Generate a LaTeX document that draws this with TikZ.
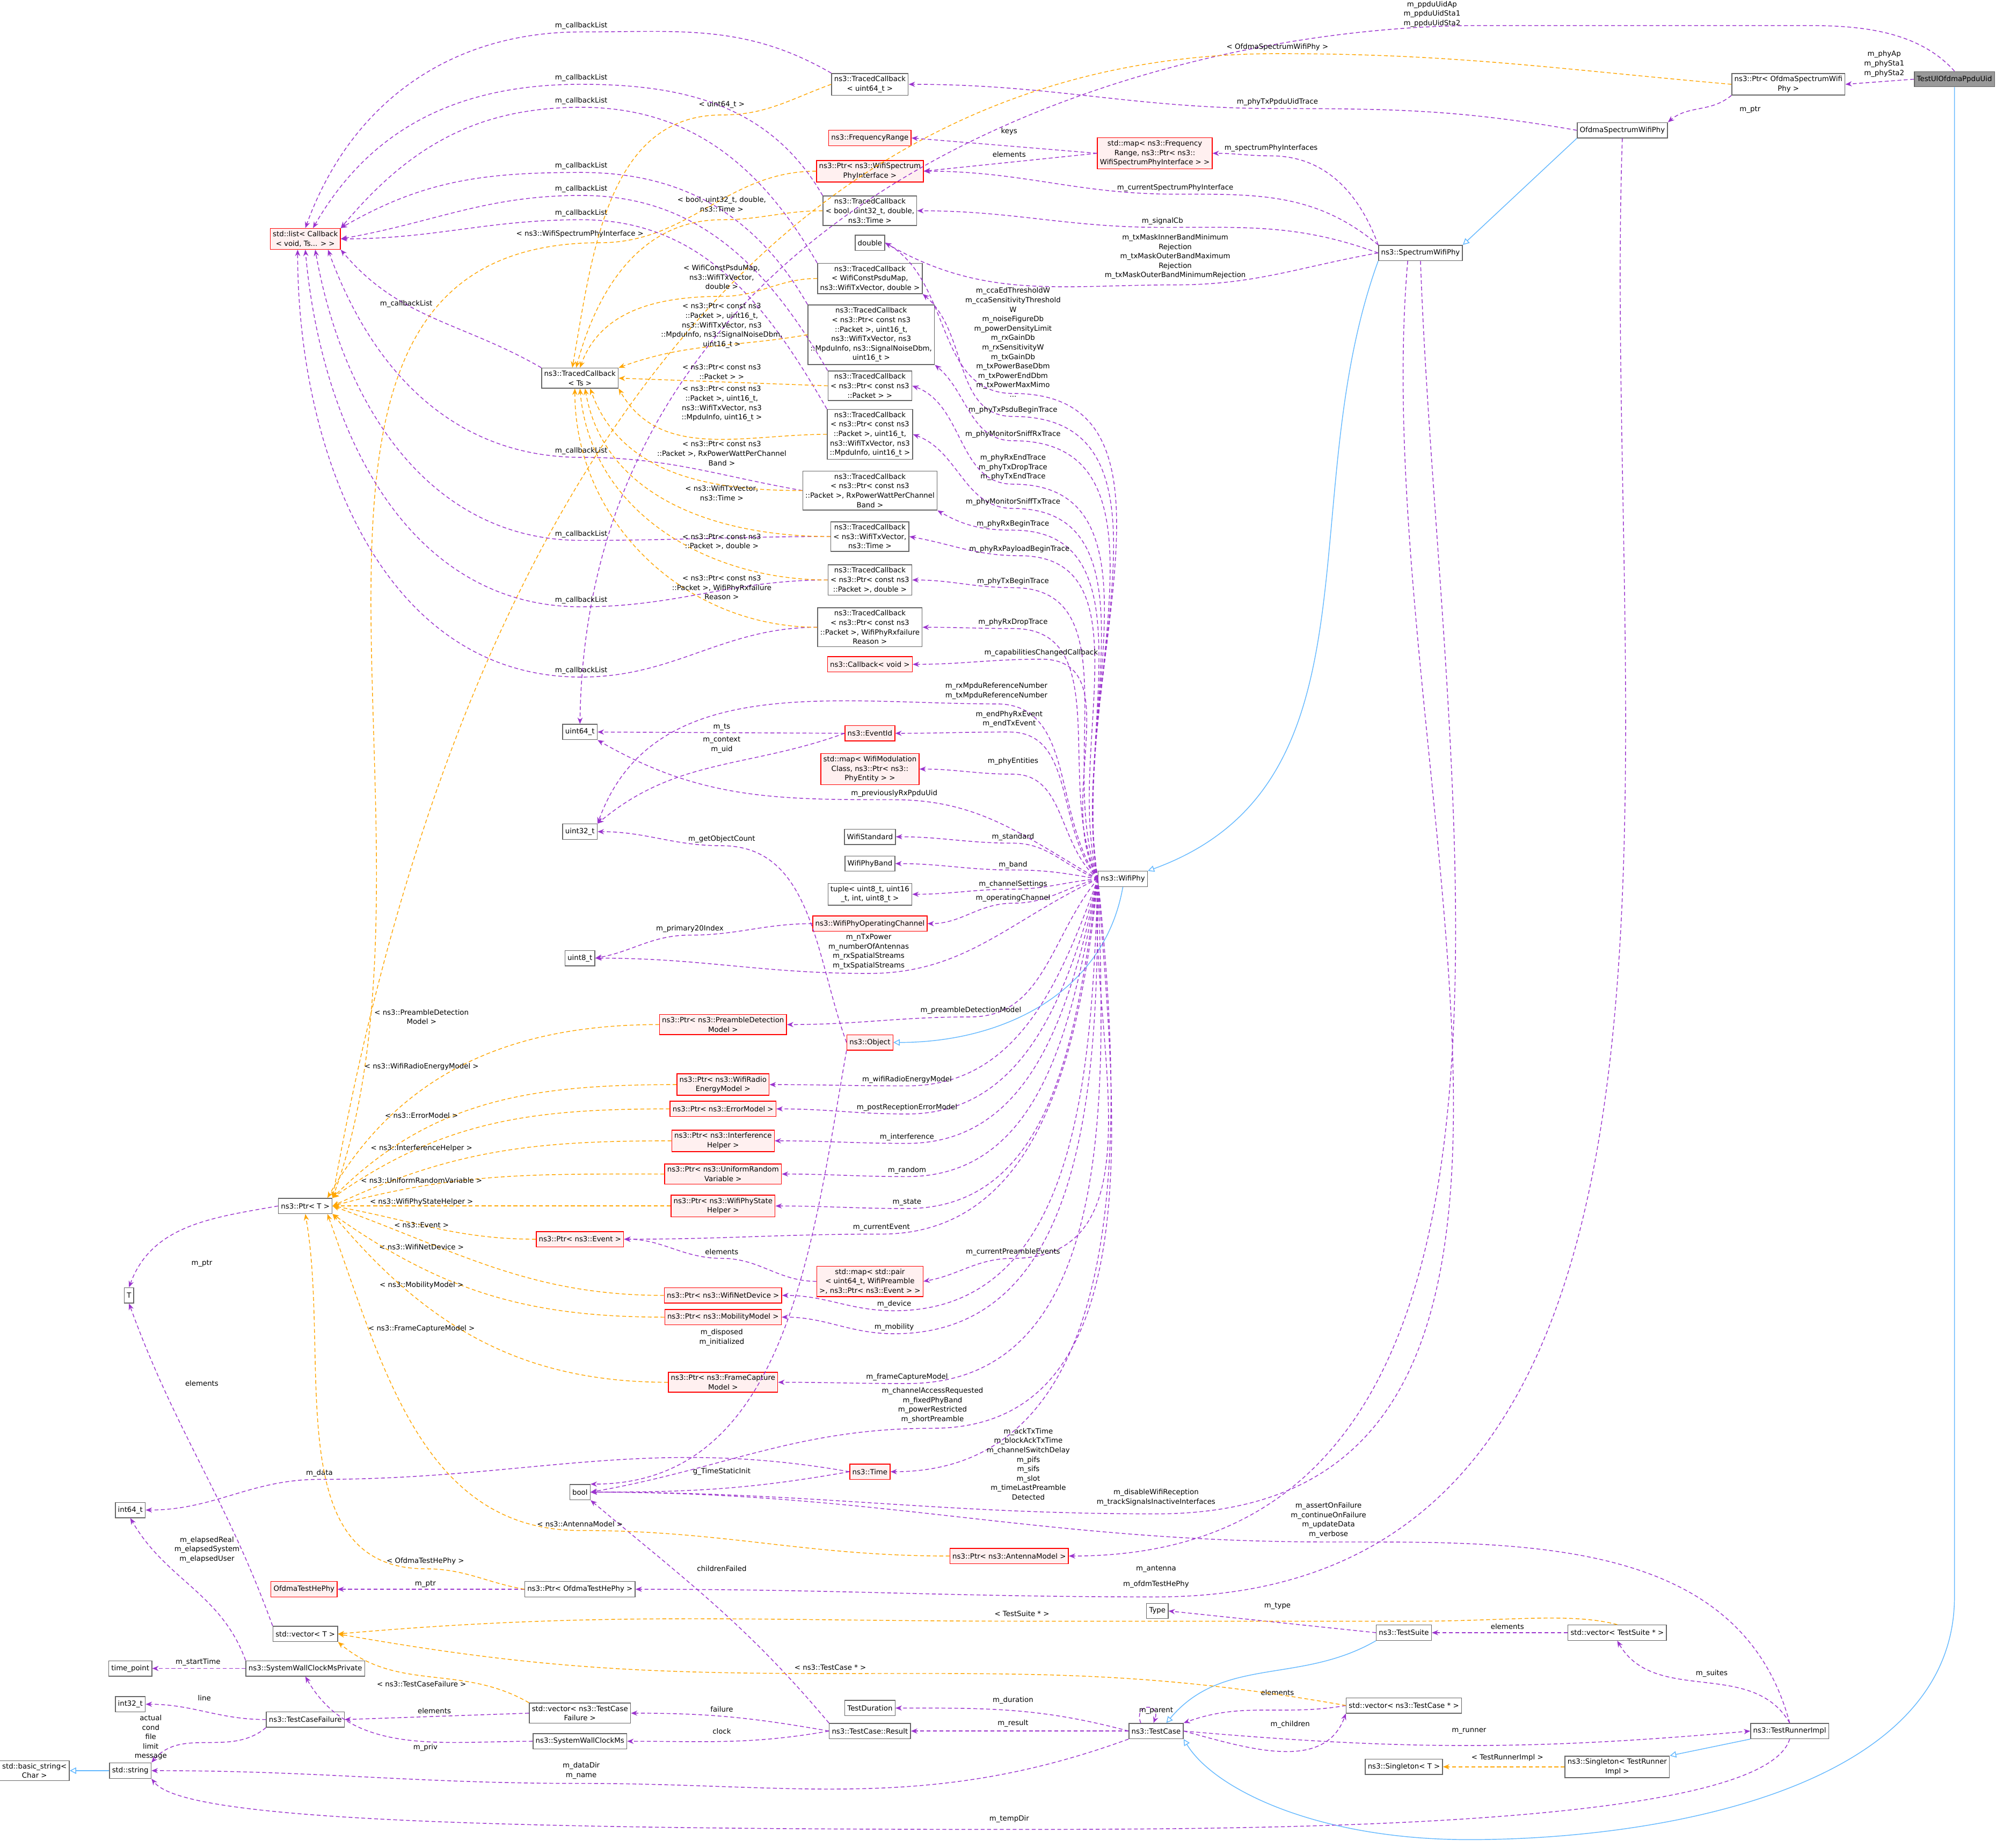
\documentclass[tikz,border=0pt]{standalone}
\usepackage{fontspec}
\setmainfont{DejaVu Sans}
\usetikzlibrary{arrows.meta}
\definecolor{pur}{HTML}{9A32CD}
\definecolor{org}{HTML}{FFA500}
\definecolor{blu}{HTML}{63B8FF}
\definecolor{bd}{HTML}{666666}
\newcount\labn
\newcommand\lab[3]{\global\advance\labn by 1 \node[lab] (lab\the\labn) at (#1,#2) {#3};}
\tikzset{
 bx/.style={draw=bd,fill=white,line width=0.18pt,inner xsep=0.6pt,inner ysep=0.6pt,align=center,font=\fontsize{1.68}{2.22}\selectfont,minimum height=3.6pt},
 rbx/.style={bx,draw=red,fill=red!6},
 gbx/.style={bx,fill=black!40},
 lab/.style={align=center,font=\fontsize{1.68}{2.22}\selectfont,inner sep=0pt},
 pe/.style={draw=pur,dash pattern=on 0.9pt off 0.6pt,line width=0.18pt,-{Stealth[length=1.5pt,width=1.2pt]}},
 oe/.style={draw=org,dash pattern=on 0.9pt off 0.6pt,line width=0.18pt,-{Stealth[length=1.5pt,width=1.2pt]}},
 be/.style={draw=blu,line width=0.18pt,-{Triangle[open,length=1.5pt,width=1.5pt,fill=white]}},
}
\begin{document}
\begin{tikzpicture}[x=0.3pt,y=-0.3pt]
\useasboundingbox (0,0) rectangle (1568,1446.5);
% ---------- nodes ----------
\node[gbx] (tu) at (1530,62) {TestUlOfdmaPpduUid};
\node[bx] (pofd) at (1400,66) {ns3::Ptr< OfdmaSpectrumWifi\\Phy >};
\node[bx] (ofdm) at (1270,102) {OfdmaSpectrumWifiPhy};
\node[bx] (swp) at (1112,198) {ns3::SpectrumWifiPhy};
\node[bx] (wp) at (879,688) {ns3::WifiPhy};
\node[rbx] (mapf) at (904,120) {std::map< ns3::Frequency\\Range, ns3::Ptr< ns3::\\WifiSpectrumPhyInterface > >};
\node[rbx] (freq) at (681,108) {ns3::FrequencyRange};
\node[rbx] (pwsi) at (681,134) {ns3::Ptr< ns3::WifiSpectrum\\PhyInterface >};
\node[bx] (tc64) at (681,66) {ns3::TracedCallback\\< uint64\_t >};
\node[bx] (tcbool) at (681,165) {ns3::TracedCallback\\< bool, uint32\_t, double,\\ns3::Time >};
\node[bx] (dbl) at (681,190) {double};
\node[bx] (tcpsdu) at (681,218) {ns3::TracedCallback\\< WifiConstPsduMap,\\ns3::WifiTxVector, double >};
\node[bx] (tcsniffrx) at (682,262) {ns3::TracedCallback\\< ns3::Ptr< const ns3\\::Packet >, uint16\_t,\\ns3::WifiTxVector, ns3\\::MpduInfo, ns3::SignalNoiseDbm,\\uint16\_t >};
\node[bx] (tcpkt) at (681,302) {ns3::TracedCallback\\< ns3::Ptr< const ns3\\::Packet > >};
\node[bx] (tcsnifftx) at (681,340) {ns3::TracedCallback\\< ns3::Ptr< const ns3\\::Packet >, uint16\_t,\\ns3::WifiTxVector, ns3\\::MpduInfo, uint16\_t >};
\node[bx] (tcrxpow) at (681,384) {ns3::TracedCallback\\< ns3::Ptr< const ns3\\::Packet >, RxPowerWattPerChannel\\Band >};
\node[bx] (tctxv) at (681,420) {ns3::TracedCallback\\< ns3::WifiTxVector,\\ns3::Time >};
\node[bx] (tcpktd) at (681,454) {ns3::TracedCallback\\< ns3::Ptr< const ns3\\::Packet >, double >};
\node[bx] (tcfail) at (681,491) {ns3::TracedCallback\\< ns3::Ptr< const ns3\\::Packet >, WifiPhyRxfailure\\Reason >};
\node[rbx] (cbv) at (681,520) {ns3::Callback< void >};
\node[rbx] (evid) at (681,574) {ns3::EventId};
\node[rbx] (mapmod) at (681,602) {std::map< WifiModulation\\Class, ns3::Ptr< ns3::\\PhyEntity > >};
\node[bx] (wstd) at (681,655) {WifiStandard};
\node[bx] (wband) at (681,676) {WifiPhyBand};
\node[bx] (tup) at (681,700) {tuple< uint8\_t, uint16\\\_t, int, uint8\_t >};
\node[rbx] (woc) at (681,723) {ns3::WifiPhyOperatingChannel};
\node[rbx] (ppre) at (566,802) {ns3::Ptr< ns3::PreambleDetection\\Model >};
\node[rbx] (obj) at (681,816) {ns3::Object};
\node[rbx] (pen) at (566,849) {ns3::Ptr< ns3::WifiRadio\\EnergyModel >};
\node[rbx] (perr) at (566,868) {ns3::Ptr< ns3::ErrorModel >};
\node[rbx] (pint) at (566,893) {ns3::Ptr< ns3::Interference\\Helper >};
\node[rbx] (prnd) at (566,919) {ns3::Ptr< ns3::UniformRandom\\Variable >};
\node[rbx] (pst) at (566,944) {ns3::Ptr< ns3::WifiPhyState\\Helper >};
\node[rbx] (pev) at (454,970) {ns3::Ptr< ns3::Event >};
\node[rbx] (mappair) at (681,1003) {std::map< std::pair\\< uint64\_t, WifiPreamble\\>, ns3::Ptr< ns3::Event > >};
\node[rbx] (pdev) at (566,1014) {ns3::Ptr< ns3::WifiNetDevice >};
\node[rbx] (pmob) at (566,1031) {ns3::Ptr< ns3::MobilityModel >};
\node[rbx] (pfc) at (566,1082) {ns3::Ptr< ns3::FrameCapture\\Model >};
\node[rbx] (time) at (681,1152) {ns3::Time};
\node[rbx] (pant) at (790,1218) {ns3::Ptr< ns3::AntennaModel >};
\node[bx] (pohe) at (454,1244) {ns3::Ptr< OfdmaTestHePhy >};
\node[rbx] (ohe) at (238,1244) {OfdmaTestHePhy};
\node[rbx] (list) at (239,187) {std::list< Callback\\< void, Ts... > >};
\node[bx] (tcts) at (454,296) {ns3::TracedCallback\\< Ts >};
\node[bx] (u64) at (454,573) {uint64\_t};
\node[bx] (u32) at (454,651) {uint32\_t};
\node[bx] (u8) at (454,750) {uint8\_t};
\node[bx] (ptrt) at (239,944) {ns3::Ptr< T >};
\node[bx] (T) at (101,1014) {T};
\node[bx] (i64) at (102,1182) {int64\_t};
\node[bx] (bool) at (454,1168) {bool};
\node[bx] (vect) at (239,1279) {std::vector< T >};
\node[bx] (tpt) at (102,1306) {time\_point};
\node[bx] (swcp) at (239,1306) {ns3::SystemWallClockMsPrivate};
\node[bx] (i32) at (102,1334) {int32\_t};
\node[bx] (tcf) at (239,1346) {ns3::TestCaseFailure};
\node[bx] (vtcf) at (454,1341) {std::vector< ns3::TestCase\\Failure >};
\node[bx] (swc) at (454,1363) {ns3::SystemWallClockMs};
\node[bx] (str) at (102,1386) {std::string};
\node[bx] (bstr) at (27,1386) {std::basic\_string<\\Char >};
\node[bx] (res) at (681,1355) {ns3::TestCase::Result};
\node[bx] (tdur) at (681,1337) {TestDuration};
\node[bx] (tcase) at (905,1355) {ns3::TestCase};
\node[bx] (type) at (906,1261) {Type};
\node[bx] (tsuite) at (1099,1278) {ns3::TestSuite};
\node[bx] (vts) at (1266,1278) {std::vector< TestSuite * >};
\node[bx] (vtc) at (1099,1335) {std::vector< ns3::TestCase * >};
\node[bx] (tri) at (1401,1355) {ns3::TestRunnerImpl};
\node[bx] (sgt) at (1099,1383) {ns3::Singleton< T >};
\node[bx] (sgtri) at (1266,1383) {ns3::Singleton< TestRunner\\Impl >};
% ---------- blue inheritance ----------
\draw[be] (ofdm.south west) -- (swp.north east);
\draw[be] (swp.south west) to[out=250,in=20] (wp.north east);
\draw[be] (wp.south) to[out=260,in=0] (obj.east);
\draw[be] (tu.south) -- (1530,1250) .. controls (1530,1400) and (1300,1440) .. (1150,1440) .. controls (1030,1440) and (950,1400) .. (tcase.south east);
\draw[be] (tsuite.south west) to[out=210,in=50] ([xshift=2.4pt]tcase.north);
\draw[be] (tri.south west) -- (sgtri.north east);
\draw[be] (str.west) -- (bstr.east);
% ---------- TestUl / top ----------
\draw[pe] (tu.west) -- (pofd.east); \lab{1475}{50}{m\_phyAp\\m\_phySta1\\m\_phySta2}
\draw[pe] (tu.north) .. controls (1500,22) and (1450,20) .. (1413,20) -- (1159,20) .. controls (900,20) and (460,150) .. (u64.north); \lab{1121}{11}{m\_ppduUidAp\\m\_ppduUidSta1\\m\_ppduUidSta2}
\draw[pe] (pofd.south west) to[out=220,in=40] (ofdm.north east); \lab{1370}{86}{m\_ptr}
\draw[oe] (pofd.west) to[out=175,in=0] (1000,42) to[out=180,in=80] (ptrt.north east); \lab{1000}{37}{< OfdmaSpectrumWifiPhy >}
\draw[pe] (ofdm.west) to[out=170,in=0] (1000,85) to[out=180,in=0] (tc64.east); \lab{1000}{80}{m\_phyTxPpduUidTrace}
\draw[pe] (ofdm.south) to[out=-92,in=0] (905,1250) to[out=180,in=0] (pohe.east); \lab{905}{1240}{m\_ofdmTestHePhy}
% ---------- SpectrumWifiPhy ----------
\draw[pe] (swp.north west) to[out=110,in=0] (995,122) to[out=180,in=0] (mapf.east); \lab{995}{116}{m\_spectrumPhyInterfaces}
\draw[pe] (swp.north west) to[out=140,in=0] (920,152) to[out=180,in=0] (pwsi.east); \lab{920}{147}{m\_currentSpectrumPhyInterface}
\draw[pe] (swp.west) to[out=160,in=0] (910,178) to[out=180,in=0] (tcbool.east); \lab{910}{173}{m\_signalCb}
\draw[pe] (swp.west) to[out=190,in=0] (920,223) to[out=180,in=-30] (dbl.east); \lab{920}{201}{m\_txMaskInnerBandMinimum\\Rejection\\m\_txMaskOuterBandMaximum\\Rejection\\m\_txMaskOuterBandMinimumRejection}
\draw[pe] ([xshift=-3pt]swp.south) to[out=-95,in=0] (905,1185) to[out=180,in=0] (bool.east); \lab{905}{1172}{m\_disableWifiReception\\m\_trackSignalsInactiveInterfaces}
\draw[pe] (swp.south) to[out=-88,in=0] (pant.east); \lab{905}{1228}{m\_antenna}
\draw[pe] (mapf.west) -- (freq.east); \lab{790}{103}{keys}
\draw[pe] (mapf.west) -- (pwsi.east); \lab{790}{121}{elements}
\draw[oe] (pwsi.west) to[out=180,in=0] (470,190) to[out=180,in=70] (ptrt.north east); \lab{454}{183}{< ns3::WifiSpectrumPhyInterface >}
% ---------- WifiPhy ----------
\draw[pe] (wp.west) to[out=100,in=0] (793,308) to[out=180,in=-30] (dbl.east); \lab{793}{268}{m\_ccaEdThresholdW\\m\_ccaSensitivityThreshold\\W\\m\_noiseFigureDb\\m\_powerDensityLimit\\m\_rxGainDb\\m\_rxSensitivityW\\m\_txGainDb\\m\_txPowerBaseDbm\\m\_txPowerEndDbm\\m\_txPowerMaxMimo\\...}
\draw[pe] (wp.west) to[out=100,in=0] (793,326) to[out=180,in=-40] (tcpsdu.south east); \lab{793}{321}{m\_phyTxPsduBeginTrace}
\draw[pe] (wp.west) to[out=100,in=0] (793,345) to[out=180,in=-40] (tcsniffrx.south east); \lab{793}{340}{m\_phyMonitorSniffRxTrace}
\draw[pe] (wp.west) to[out=100,in=0] (793,379) to[out=180,in=-20] (tcpkt.east); \lab{793}{366}{m\_phyRxEndTrace\\m\_phyTxDropTrace\\m\_phyTxEndTrace}
\draw[pe] (wp.west) to[out=100,in=0] (793,398) to[out=180,in=-20] (tcsnifftx.east); \lab{793}{393}{m\_phyMonitorSniffTxTrace}
\draw[pe] (wp.west) to[out=100,in=0] (793,415) to[out=180,in=-30] (tcrxpow.south east); \lab{793}{410}{m\_phyRxBeginTrace}
\draw[pe] (wp.west) to[out=105,in=0] (798,435) to[out=180,in=-10] (tctxv.east); \lab{798}{430}{m\_phyRxPayloadBeginTrace}
\draw[pe] (wp.west) to[out=110,in=0] (793,460) to[out=180,in=0] (tcpktd.east); \lab{793}{455}{m\_phyTxBeginTrace}
\draw[pe] (wp.west) to[out=115,in=0] (793,492) to[out=180,in=0] (tcfail.east); \lab{793}{487}{m\_phyRxDropTrace}
\draw[pe] (wp.west) to[out=120,in=0] (815,516) to[out=180,in=0] (cbv.east); \lab{815}{511}{m\_capabilitiesChangedCallback}
\draw[pe] (wp.west) to[out=125,in=0] (780,551) to[out=180,in=70] (u32.north east); \lab{780}{541}{m\_rxMpduReferenceNumber\\m\_txMpduReferenceNumber}
\draw[pe] (wp.west) to[out=130,in=0] (790,573) to[out=180,in=0] (evid.east); \lab{790}{563}{m\_endPhyRxEvent\\m\_endTxEvent}
\draw[pe] (wp.west) to[out=140,in=0] (793,606) to[out=180,in=0] (mapmod.east); \lab{793}{596}{m\_phyEntities}
\draw[pe] (wp.west) to[out=150,in=0] (700,626) to[out=180,in=-30] (u64.south east); \lab{700}{621}{m\_previouslyRxPpduUid}
\draw[pe] (wp.west) to[out=160,in=0] (793,660) to[out=180,in=0] (wstd.east); \lab{793}{655}{m\_standard}
\draw[pe] (wp.west) to[out=170,in=0] (793,681) to[out=180,in=0] (wband.east); \lab{793}{677}{m\_band}
\draw[pe] (wp.west) to[out=185,in=0] (793,696) to[out=180,in=0] (tup.east); \lab{793}{692}{m\_channelSettings}
\draw[pe] (wp.west) to[out=195,in=0] (793,707) to[out=180,in=0] (woc.east); \lab{793}{703}{m\_operatingChannel}
\draw[pe] (wp.west) to[out=205,in=0] (680,762) to[out=180,in=0] (u8.east); \lab{680}{745}{m\_nTxPower\\m\_numberOfAntennas\\m\_rxSpatialStreams\\m\_txSpatialStreams}
\draw[pe] (wp.west) to[out=230,in=0] (760,796) to[out=180,in=0] (ppre.east); \lab{760}{791}{m\_preambleDetectionModel}
\draw[pe] (wp.west) to[out=250,in=0] (710,850) to[out=180,in=0] (pen.east); \lab{710}{845}{m\_wifiRadioEnergyModel}
\draw[pe] (wp.west) to[out=255,in=0] (710,872) to[out=180,in=0] (perr.east); \lab{710}{867}{m\_postReceptionErrorModel}
\draw[pe] (wp.west) to[out=258,in=0] (710,895) to[out=180,in=0] (pint.east); \lab{710}{890}{m\_interference}
\draw[pe] (wp.west) to[out=260,in=0] (710,921) to[out=180,in=0] (prnd.east); \lab{710}{916}{m\_random}
\draw[pe] (wp.west) to[out=262,in=0] (710,946) to[out=180,in=0] (pst.east); \lab{710}{941}{m\_state}
\draw[pe] (wp.west) to[out=264,in=0] (690,966) to[out=180,in=0] (pev.east); \lab{690}{961}{m\_currentEvent}
\draw[pe] (wp.west) to[out=266,in=0] (793,985) to[out=180,in=10] (mappair.east); \lab{793}{980}{m\_currentPreambleEvents}
\draw[pe] (wp.west) to[out=268,in=0] (700,1026) to[out=180,in=0] (pdev.east); \lab{700}{1021}{m\_device}
\draw[pe] (wp.west) to[out=270,in=0] (700,1044) to[out=180,in=0] (pmob.east); \lab{700}{1039}{m\_mobility}
\draw[pe] (wp.west) to[out=272,in=0] (710,1083) to[out=180,in=0] (pfc.east); \lab{710}{1078}{m\_frameCaptureModel}
\draw[pe] (wp.west) to[out=274,in=0] (730,1118) to[out=180,in=10] (bool.east); \lab{730}{1100}{m\_channelAccessRequested\\m\_fixedPhyBand\\m\_powerRestricted\\m\_shortPreamble}
\draw[pe] (wp.west) to[out=276,in=0] (time.east); \lab{805}{1146}{m\_ackTxTime\\m\_blockAckTxTime\\m\_channelSwitchDelay\\m\_pifs\\m\_sifs\\m\_slot\\m\_timeLastPreamble\\Detected}
% ---------- misc purple ----------
\draw[pe] (evid.west) -- (u64.east); \lab{565}{569}{m\_ts}
\draw[pe] (evid.west) to[out=200,in=40] (u32.north east); \lab{565}{583}{m\_context\\m\_uid}
\draw[pe] (woc.west) to[out=180,in=0] (540,732) to[out=180,in=10] (u8.east); \lab{540}{727}{m\_primary20Index}
\draw[pe] (obj.west) to[out=110,in=0] (565,662) to[out=180,in=0] (u32.east); \lab{565}{657}{m\_getObjectCount}
\draw[pe] (obj.south west) to[out=-100,in=0] (bool.north east); \lab{565}{1047}{m\_disposed\\m\_initialized}
\draw[pe] (mappair.west) to[out=180,in=0] (565,985) to[out=180,in=0] (pev.east); \lab{565}{980}{elements}
\draw[pe] (time.west) to[out=170,in=0] (250,1158) to[out=180,in=0] (i64.east); \lab{250}{1153}{m\_data}
\draw[pe] (time.west) to[out=190,in=0] (bool.east); \lab{565}{1152}{g\_TimeStaticInit}
\draw[pe] (pohe.west) -- (ohe.east); \lab{333}{1240}{m\_ptr}
\draw[pe] (ptrt.west) to[out=190,in=70] (T.north); \lab{158}{989}{m\_ptr}
\draw[pe] (vect.north west) to[out=110,in=-70] (T.south); \lab{158}{1083}{elements}
\draw[pe] (swcp.north west) to[out=110,in=-60] (i64.south); \lab{162}{1213}{m\_elapsedReal\\m\_elapsedSystem\\m\_elapsedUser}
\draw[pe] (swcp.west) -- (tpt.east); \lab{155}{1301}{m\_startTime}
\draw[pe] (tcf.west) to[out=180,in=0] (i32.east); \lab{160}{1329}{line}
\draw[pe] (tcf.south west) to[out=220,in=50] (str.north east); \lab{118}{1360}{actual\\cond\\file\\limit\\message}
\draw[pe] (vtcf.west) -- (tcf.east); \lab{340}{1339}{elements}
\draw[pe] (swc.west) to[out=180,in=-60] (swcp.south); \lab{333}{1368}{m\_priv}
\draw[pe] (res.west) to[out=170,in=0] (vtcf.east); \lab{565}{1338}{failure}
\draw[pe] (res.west) to[out=190,in=0] (swc.east); \lab{565}{1355}{clock}
\draw[pe] (res.north west) to[out=130,in=-40] (bool.south east); \lab{565}{1228}{childrenFailed}
\draw[pe] (tcase.west) -- (res.east); \lab{793}{1349}{m\_result}
\draw[pe] (tcase.west) to[out=165,in=0] (tdur.east); \lab{793}{1331}{m\_duration}
\draw[pe] ([xshift=-3.6pt]tcase.north) .. controls +(-6,-16) and +(6,-16) .. ([xshift=-0.6pt]tcase.north); \lab{905}{1339}{m\_parent}
\draw[pe] (tcase.east) to[out=-15,in=-110] (vtc.south west); \lab{1010}{1350}{m\_children}
\draw[pe] (vtc.west) to[out=190,in=20] (tcase.north east); \lab{1000}{1325}{elements}
\draw[pe] (tcase.south west) to[out=200,in=0] (455,1396) to[out=180,in=0] (str.east); \lab{455}{1386}{m\_dataDir\\m\_name}
\draw[pe] (tcase.east) to[out=-5,in=185] (tri.west); \lab{1150}{1355}{m\_runner}
\draw[pe] (tsuite.west) -- (type.east); \lab{1000}{1257}{m\_type}
\draw[pe] (vts.west) -- (tsuite.east); \lab{1180}{1273}{elements}
\draw[pe] (tri.north) to[out=120,in=-60] (vts.south); \lab{1340}{1310}{m\_suites}
\draw[pe] (tri.north) to[out=105,in=0] (1040,1207) to[out=180,in=0] (bool.east); \lab{1040}{1190}{m\_assertOnFailure\\m\_continueOnFailure\\m\_updateData\\m\_verbose}
\draw[pe] (tri.south) .. controls (1380,1430) and (1000,1432) .. (790,1432) .. controls (300,1432) and (140,1420) .. (str.south east); \lab{790}{1424}{m\_tempDir}
% ---------- callbackList ----------
\draw[pe] (tc64.north west) to[out=150,in=0] (455,25) to[out=180,in=70] (list.north); \lab{455}{20}{m\_callbackList}
\draw[pe] (tcbool.north west) to[out=120,in=0] (455,66) to[out=180,in=60] ([xshift=1.8pt]list.north); \lab{455}{61}{m\_callbackList}
\draw[pe] (tcpsdu.north west) to[out=120,in=0] (455,84) to[out=180,in=50] (list.north east); \lab{455}{79}{m\_callbackList}
\draw[pe] (tcsniffrx.north west) to[out=120,in=0] (455,135) to[out=180,in=30] (list.north east); \lab{455}{130}{m\_callbackList}
\draw[pe] (tcpkt.north west) to[out=120,in=0] (455,153) to[out=180,in=10] (list.east); \lab{455}{148}{m\_callbackList}
\draw[pe] (tcsnifftx.north west) to[out=120,in=0] (455,172) to[out=180,in=0] (list.east); \lab{455}{167}{m\_callbackList}
\draw[pe] (tcts.north west) to[out=150,in=-50] (list.south east); \lab{318}{238}{m\_callbackList}
\draw[pe] (tcrxpow.west) to[out=170,in=0] (455,358) to[out=180,in=-70] ([xshift=-3pt]list.south east); \lab{455}{353}{m\_callbackList}
\draw[pe] (tctxv.west) to[out=180,in=0] (455,423) to[out=180,in=-80] ([xshift=-6pt]list.south east); \lab{455}{418}{m\_callbackList}
\draw[pe] (tcpktd.west) to[out=180,in=0] (455,475) to[out=180,in=-85] (list.south); \lab{455}{470}{m\_callbackList}
\draw[pe] (tcfail.west) to[out=180,in=0] (455,530) to[out=180,in=-90] ([xshift=-1.8pt]list.south); \lab{455}{525}{m\_callbackList}
% ---------- orange to TracedCallback<Ts> ----------
\draw[oe] (tc64.west) to[out=200,in=0] (565,90) to[out=180,in=80] ([xshift=-1.8pt]tcts.north); \lab{565}{82}{< uint64\_t >}
\draw[oe] (tcbool.west) to[out=180,in=0] (565,172) to[out=180,in=75] ([xshift=-0.9pt]tcts.north); \lab{565}{160}{< bool, uint32\_t, double,\\ns3::Time >}
\draw[oe] (tcpsdu.west) to[out=180,in=0] (565,232) to[out=180,in=70] (tcts.north); \lab{565}{217}{< WifiConstPsduMap,\\ns3::WifiTxVector,\\double >}
\draw[oe] (tcsniffrx.west) to[out=190,in=20] (tcts.north east); \lab{565}{255}{< ns3::Ptr< const ns3\\::Packet >, uint16\_t,\\ns3::WifiTxVector, ns3\\::MpduInfo, ns3::SignalNoiseDbm,\\uint16\_t >}
\draw[oe] (tcpkt.west) -- (tcts.east); \lab{565}{291}{< ns3::Ptr< const ns3\\::Packet > >}
\draw[oe] (tcsnifftx.west) to[out=180,in=-60] (tcts.south east); \lab{565}{316}{< ns3::Ptr< const ns3\\::Packet >, uint16\_t,\\ns3::WifiTxVector, ns3\\::MpduInfo, uint16\_t >}
\draw[oe] (tcrxpow.west) to[out=180,in=-70] ([xshift=2.4pt]tcts.south); \lab{565}{355}{< ns3::Ptr< const ns3\\::Packet >, RxPowerWattPerChannel\\Band >}
\draw[oe] (tctxv.west) to[out=180,in=-80] ([xshift=1.2pt]tcts.south); \lab{565}{386}{< ns3::WifiTxVector,\\ns3::Time >}
\draw[oe] (tcpktd.west) to[out=180,in=-85] (tcts.south); \lab{565}{424}{< ns3::Ptr< const ns3\\::Packet >, double >}
\draw[oe] (tcfail.west) to[out=180,in=-90] ([xshift=-1.2pt]tcts.south); \lab{565}{460}{< ns3::Ptr< const ns3\\::Packet >, WifiPhyRxfailure\\Reason >}
% ---------- orange to Ptr<T> ----------
\draw[oe] (ppre.west) to[out=180,in=60] ([xshift=-1.2pt]ptrt.north east); \lab{330}{796}{< ns3::PreambleDetection\\Model >}
\draw[oe] (pen.west) to[out=180,in=45] (ptrt.north east); \lab{330}{835}{< ns3::WifiRadioEnergyModel >}
\draw[oe] (perr.west) to[out=180,in=35] (ptrt.north east); \lab{330}{873}{< ns3::ErrorModel >}
\draw[oe] (pint.west) to[out=180,in=25] (ptrt.east); \lab{330}{899}{< ns3::InterferenceHelper >}
\draw[oe] (prnd.west) to[out=180,in=15] (ptrt.east); \lab{330}{924}{< ns3::UniformRandomVariable >}
\draw[oe] (pst.west) to[out=180,in=0] (ptrt.east); \lab{330}{941}{< ns3::WifiPhyStateHelper >}
\draw[oe] (pev.west) to[out=180,in=-10] (ptrt.east); \lab{330}{959}{< ns3::Event >}
\draw[oe] (pdev.west) to[out=180,in=-20] (ptrt.east); \lab{330}{976}{< ns3::WifiNetDevice >}
\draw[oe] (pmob.west) to[out=180,in=-35] (ptrt.south east); \lab{330}{1006}{< ns3::MobilityModel >}
\draw[oe] (pfc.west) to[out=180,in=-50] (ptrt.south east); \lab{330}{1040}{< ns3::FrameCaptureModel >}
\draw[oe] (pant.west) to[out=180,in=0] (454,1198) to[out=180,in=-70] ([xshift=-1.2pt]ptrt.south east); \lab{454}{1193}{< ns3::AntennaModel >}
\draw[oe] (pohe.west) to[out=170,in=0] (333,1228) to[out=180,in=-80] (ptrt.south); \lab{333}{1222}{< OfdmaTestHePhy >}
% ---------- orange to vector<T>, Singleton<T> ----------
\draw[oe] (vts.north) .. controls (1230,1262) and (1180,1269) .. (1108,1269) -- (800,1269) to[out=180,in=5] (vect.east); \lab{800}{1263}{< TestSuite * >}
\draw[oe] (vtc.west) to[out=170,in=0] (650,1310) to[out=180,in=-10] (vect.east); \lab{650}{1305}{< ns3::TestCase * >}
\draw[oe] (vtcf.north west) to[out=150,in=-40] (vect.south east); \lab{330}{1318}{< ns3::TestCaseFailure >}
\draw[oe] (sgtri.west) -- (sgt.east); \lab{1180}{1376}{< TestRunnerImpl >}
\end{tikzpicture}
\end{document}
